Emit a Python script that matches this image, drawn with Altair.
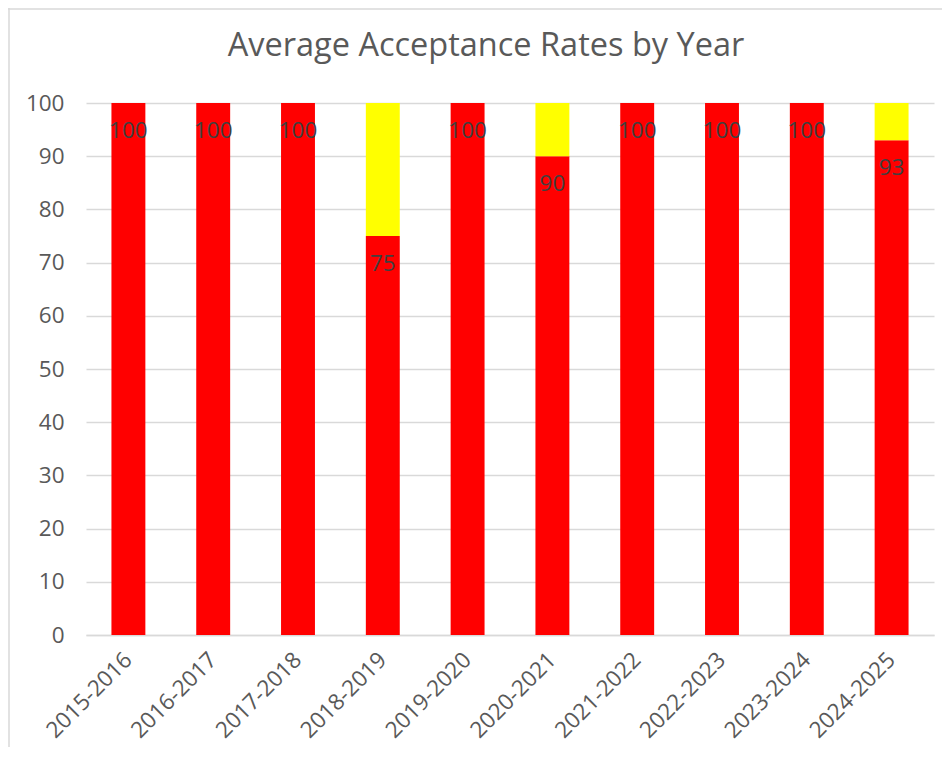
import altair as alt
import pandas as pd

years = ["2015-2016", "2016-2017", "2017-2018", "2018-2019", "2019-2020",
         "2020-2021", "2021-2022", "2022-2023", "2023-2024", "2024-2025"]
accepted = [100, 100, 100, 75, 100, 90, 100, 100, 100, 93]
series = ["Accepted", "Remaining"]
colors = ["#ff0000", "#ffff00"]
title_text = "Average Acceptance Rates by Year"

rows = []
for y, a in zip(years, accepted):
    rows.append({"year": y, "series": series[0], "value": a, "ord": 0})
    rows.append({"year": y, "series": series[1], "value": 100 - a, "ord": 1})
df = pd.DataFrame(rows)
lab = pd.DataFrame({"year": years, "value": accepted})

W, H = 848, 532
PL, PT, PR, PB = 78, 95, 8, 112
FONT = "Open Sans"
FS = 22.5

x_enc = alt.X("year:N", sort=years, title=None,
              scale=alt.Scale(paddingInner=0.6, paddingOuter=0.3),
              axis=alt.Axis(labelAngle=-45, labelAlign="right", labelBaseline="middle",
                            labelFontSize=FS, labelColor="#595959", labelFont=FONT,
                            ticks=False, labelPadding=21, domainColor="#d9d9d9",
                            domainWidth=1.5, grid=False))

bars = alt.Chart(df).mark_bar().encode(
    x=x_enc,
    y=alt.Y("value:Q", stack="zero", title=None,
            scale=alt.Scale(domain=[0, 100], nice=False),
            axis=alt.Axis(values=list(range(0, 101, 10)), labelFontSize=FS,
                          labelColor="#595959", labelFont=FONT, ticks=False,
                          labelPadding=22, domain=False, gridColor="#d9d9d9",
                          gridWidth=1.5)),
    color=alt.Color("series:N", scale=alt.Scale(domain=series, range=colors), legend=None),
    order=alt.Order("ord:Q"),
)

labels = alt.Chart(lab).mark_text(fontSize=FS, font=FONT, color="#404040",
                                  baseline="middle", dy=28).encode(
    x=alt.X("year:N", sort=years),
    y=alt.Y("value:Q"),
    text=alt.Text("value:Q"),
)

title = alt.Chart(pd.DataFrame({"t": [title_text]})).mark_text(
    fontSize=32.5, font=FONT, color="#595959", baseline="middle", align="center"
).encode(x=alt.value(486 - 8 - PL), y=alt.value(46 - 8 - PT), text="t:N")

left_border = alt.Chart(pd.DataFrame({"a": [0]})).mark_rule(color="#d9d9d9", strokeWidth=1.5).encode(
    x=alt.value(-PL + 1), y=alt.value(-PT), y2=alt.value(H + PB))
top_border = alt.Chart(pd.DataFrame({"a": [0]})).mark_rule(color="#d9d9d9", strokeWidth=1.5).encode(
    y=alt.value(-PT + 1), x=alt.value(-PL), x2=alt.value(W + PR))

chart = alt.layer(left_border, top_border, bars, labels, title).properties(
    width=W, height=H,
    autosize=alt.AutoSizeParams(type="none"),
    padding={"left": PL, "top": PT, "right": PR, "bottom": PB},
).configure_view(stroke=None)

chart.save("out.html", embed_options={"renderer": "svg", "actions": False})
